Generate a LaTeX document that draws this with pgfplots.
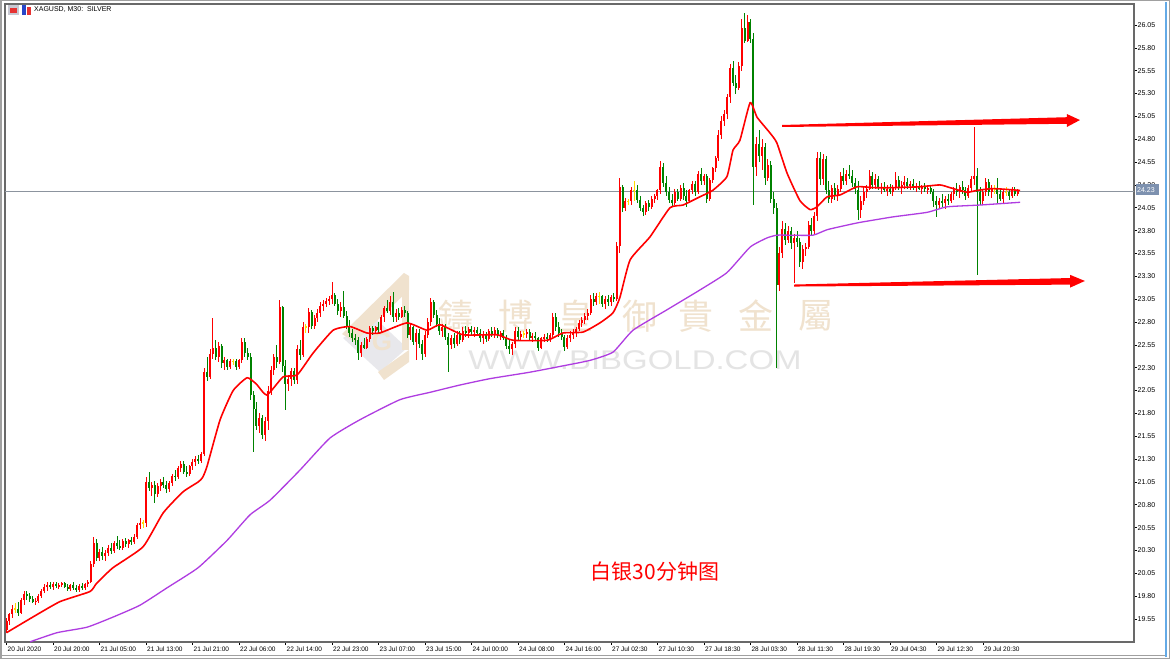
\documentclass[border=0pt]{standalone}
\usepackage{pgfplots}
\pgfplotsset{compat=1.18}
\usepackage{pgfplotstable}
\usepackage{fontspec}
\setmainfont{Liberation Sans}
\newfontfamily\cjksc{Noto Sans CJK SC}
\newfontfamily\cjktc{Noto Sans CJK TC}
\definecolor{candred}{RGB}{255,0,0}
\definecolor{candgreen}{RGB}{0,130,0}
\definecolor{candyellow}{RGB}{255,220,0}
\definecolor{maPurple}{RGB}{175,60,225}
\definecolor{wmTan}{RGB}{240,226,206}
\definecolor{wmGray}{RGB}{228,228,228}
\definecolor{logoGray}{RGB}{232,232,236}
\definecolor{frameGray}{RGB}{105,105,105}
\definecolor{bidGray}{RGB}{140,148,158}
\definecolor{boxBlue}{RGB}{125,145,175}
\definecolor{iconGray}{RGB}{200,200,210}
\definecolor{iconRed}{RGB}{230,50,50}
\definecolor{iconBlue}{RGB}{40,70,200}
\definecolor{winGray}{RGB}{160,160,160}
\definecolor{winBlue}{RGB}{100,170,230}

\pgfplotstableread{
o h l c
19.43 19.56 19.40 19.53
19.53 19.62 19.48 19.60
19.60 19.70 19.56 19.66
19.66 19.72 19.62 19.66
19.66 19.74 19.58 19.62
19.62 19.78 19.60 19.76
19.76 19.86 19.70 19.82
19.82 19.86 19.76 19.80
19.80 19.83 19.74 19.77
19.77 19.80 19.72 19.74
19.74 19.78 19.70 19.75
19.75 19.82 19.72 19.80
19.80 19.88 19.78 19.86
19.86 19.93 19.83 19.90
19.90 19.95 19.86 19.92
19.92 19.96 19.88 19.90
19.90 19.95 19.87 19.93
19.93 19.96 19.89 19.91
19.91 19.94 19.88 19.92
19.92 19.96 19.90 19.94
19.94 19.96 19.89 19.90
19.90 19.93 19.86 19.88
19.88 19.93 19.86 19.92
19.92 19.95 19.87 19.89
19.89 19.92 19.85 19.87
19.87 19.93 19.85 19.91
19.91 19.94 19.87 19.89
19.89 19.94 19.87 19.93
19.93 19.98 19.90 19.96
19.96 20.18 19.94 20.15
20.15 20.45 20.12 20.38
20.38 20.42 20.18 20.22
20.22 20.32 20.18 20.28
20.28 20.34 20.20 20.24
20.24 20.30 20.19 20.27
20.27 20.36 20.24 20.33
20.33 20.38 20.26 20.29
20.29 20.40 20.27 20.38
20.38 20.46 20.32 20.35
20.35 20.41 20.30 20.33
20.33 20.42 20.31 20.40
20.40 20.44 20.34 20.37
20.37 20.43 20.33 20.41
20.41 20.45 20.36 20.39
20.39 20.48 20.37 20.45
20.45 20.60 20.43 20.58
20.58 20.65 20.54 20.60
20.60 20.63 20.55 20.60
20.60 21.10 20.56 21.05
21.05 21.16 20.95 20.98
20.98 21.05 20.90 21.02
21.02 21.06 20.82 20.92
20.92 21.04 20.88 21.00
21.00 21.08 20.95 21.05
21.05 21.10 20.98 21.02
21.02 21.06 20.93 20.97
20.97 21.06 20.94 21.04
21.04 21.14 21.00 21.12
21.12 21.18 21.06 21.10
21.10 21.22 21.08 21.20
21.20 21.28 21.16 21.25
21.25 21.28 21.14 21.16
21.16 21.22 21.10 21.14
21.14 21.24 21.12 21.22
21.22 21.30 21.18 21.27
21.27 21.33 21.22 21.30
21.30 21.35 21.25 21.28
21.28 21.38 21.26 21.35
21.35 22.30 21.33 22.25
22.25 22.42 22.15 22.20
22.20 22.50 22.18 22.45
22.45 22.84 22.40 22.52
22.52 22.60 22.38 22.42
22.42 22.58 22.36 22.54
22.54 22.56 22.30 22.35
22.35 22.42 22.28 22.38
22.38 22.40 22.28 22.31
22.31 22.40 22.29 22.37
22.37 22.40 22.33 22.37
22.37 22.39 22.28 22.31
22.31 22.40 22.29 22.38
22.38 22.62 22.35 22.58
22.58 22.62 22.42 22.46
22.46 22.52 22.38 22.42
22.42 22.46 21.95 22.00
22.00 22.05 21.38 21.85
21.85 21.92 21.62 21.66
21.66 21.80 21.58 21.75
21.75 21.78 21.52 21.56
21.56 21.76 21.50 21.72
21.72 22.10 21.62 22.05
22.05 22.32 22.00 22.28
22.28 22.45 22.22 22.42
22.42 22.55 22.30 22.36
22.36 23.04 22.34 22.96
22.96 22.98 22.25 22.32
22.32 22.38 21.84 22.12
22.12 22.22 22.04 22.18
22.18 22.30 22.10 22.26
22.26 22.30 22.12 22.16
22.16 22.55 22.12 22.50
22.50 22.60 22.38 22.44
22.44 22.80 22.42 22.75
22.75 22.78 22.68 22.75
22.75 22.95 22.68 22.91
22.91 22.93 22.72 22.76
22.76 22.88 22.72 22.84
22.84 22.94 22.80 22.90
22.90 23.02 22.85 22.98
22.98 23.04 22.92 23.00
23.00 23.06 22.96 23.03
23.03 23.08 22.99 23.05
23.05 23.24 23.00 23.10
23.10 23.12 22.98 23.00
23.00 23.05 22.88 22.92
22.92 23.02 22.86 22.96
22.96 23.14 22.84 22.87
22.87 22.92 22.72 22.76
22.76 22.82 22.64 22.68
22.68 22.72 22.58 22.62
22.62 22.67 22.55 22.60
22.60 22.64 22.38 22.46
22.46 22.58 22.42 22.55
22.55 22.62 22.50 22.52
22.52 22.64 22.50 22.61
22.61 22.76 22.58 22.73
22.73 22.76 22.66 22.70
22.70 22.76 22.67 22.74
22.74 22.80 22.68 22.71
22.71 22.88 22.69 22.85
22.85 22.98 22.80 22.95
22.95 23.04 22.90 22.92
22.92 23.08 22.88 23.02
23.02 23.13 22.80 22.85
22.85 22.94 22.80 22.90
22.90 22.95 22.82 22.86
22.86 22.96 22.84 22.93
22.93 22.97 22.86 22.90
22.90 22.92 22.62 22.66
22.66 22.78 22.60 22.74
22.74 22.76 22.55 22.58
22.58 22.72 22.38 22.68
22.68 22.72 22.52 22.56
22.56 22.60 22.38 22.45
22.45 22.70 22.42 22.66
22.66 22.84 22.62 22.80
22.80 23.06 22.76 23.02
23.02 23.04 22.84 22.88
22.88 22.93 22.74 22.78
22.78 22.84 22.66 22.70
22.70 22.78 22.64 22.75
22.75 22.78 22.60 22.64
22.64 22.68 22.25 22.55
22.55 22.66 22.50 22.62
22.62 22.68 22.52 22.56
22.56 22.70 22.54 22.66
22.66 22.70 22.56 22.60
22.60 22.74 22.58 22.70
22.70 22.76 22.64 22.68
22.68 22.74 22.62 22.72
22.72 22.76 22.66 22.69
22.69 22.74 22.64 22.71
22.71 22.75 22.66 22.68
22.68 22.72 22.58 22.62
22.62 22.70 22.56 22.66
22.66 22.69 22.58 22.61
22.61 22.72 22.59 22.70
22.70 22.74 22.64 22.67
22.67 22.74 22.63 22.71
22.71 22.73 22.62 22.65
22.65 22.70 22.60 22.68
22.68 22.71 22.60 22.63
22.63 22.66 22.50 22.54
22.54 22.60 22.45 22.50
22.50 22.58 22.44 22.56
22.56 22.74 22.52 22.70
22.70 22.74 22.60 22.64
22.64 22.70 22.60 22.67
22.67 22.70 22.62 22.67
22.67 22.72 22.63 22.69
22.69 22.72 22.60 22.63
22.63 22.68 22.58 22.65
22.65 22.69 22.60 22.62
22.62 22.64 22.48 22.52
22.52 22.64 22.50 22.62
22.62 22.67 22.58 22.64
22.64 22.68 22.58 22.61
22.61 22.68 22.58 22.66
22.66 22.90 22.64 22.86
22.86 22.90 22.70 22.74
22.74 22.80 22.64 22.68
22.68 22.72 22.60 22.64
22.64 22.66 22.48 22.53
22.53 22.66 22.50 22.63
22.63 22.70 22.58 22.66
22.66 22.72 22.61 22.69
22.69 22.74 22.64 22.72
22.72 22.82 22.70 22.79
22.79 22.86 22.74 22.82
22.82 22.90 22.78 22.87
22.87 22.94 22.82 22.90
22.90 23.10 22.88 23.05
23.05 23.12 22.98 23.02
23.02 23.12 22.99 23.08
23.08 23.13 23.00 23.08
23.08 23.10 22.96 23.00
23.00 23.08 22.94 23.05
23.05 23.09 22.98 23.02
23.02 23.10 22.98 23.07
23.07 23.12 23.02 23.05
23.05 23.68 23.03 23.63
23.63 24.38 23.55 24.28
24.28 24.30 24.00 24.05
24.05 24.16 24.02 24.12
24.12 24.15 24.08 24.12
24.12 24.28 24.08 24.24
24.24 24.34 24.12 24.24
24.24 24.30 24.10 24.14
24.14 24.18 24.02 24.05
24.05 24.08 23.96 24.00
24.00 24.12 23.97 24.10
24.10 24.14 24.02 24.06
24.06 24.18 24.04 24.15
24.15 24.20 24.10 24.18
24.18 24.26 24.14 24.24
24.24 24.56 24.20 24.50
24.50 24.54 24.28 24.32
24.32 24.40 24.18 24.22
24.22 24.28 24.10 24.14
24.14 24.20 24.06 24.10
24.10 24.26 24.08 24.22
24.22 24.26 24.12 24.15
24.15 24.30 24.12 24.27
24.27 24.32 24.14 24.18
24.18 24.24 24.06 24.12
24.12 24.26 24.10 24.24
24.24 24.34 24.20 24.31
24.31 24.34 24.18 24.22
24.22 24.45 24.20 24.42
24.42 24.48 24.30 24.34
24.34 24.42 24.30 24.40
24.40 24.42 24.10 24.15
24.15 24.38 24.12 24.35
24.35 24.50 24.32 24.48
24.48 24.62 24.44 24.60
24.60 24.90 24.56 24.85
24.85 25.05 24.80 25.00
25.00 25.12 24.95 25.08
25.08 25.30 25.02 25.26
25.26 25.62 25.20 25.58
25.58 25.66 25.38 25.42
25.42 25.50 25.30 25.36
25.36 25.65 25.34 25.60
25.60 26.12 25.55 26.02
26.02 26.18 25.85 25.88
25.88 26.16 25.86 26.08
26.08 26.12 25.85 25.90
25.90 25.96 24.08 24.50
24.50 24.82 24.40 24.75
24.75 24.90 24.55 24.62
24.62 24.80 24.46 24.72
24.72 24.76 24.30 24.38
24.38 24.58 24.34 24.52
24.52 24.56 24.10 24.15
24.15 24.22 23.98 24.05
24.05 24.10 22.30 23.20
23.20 23.62 23.14 23.56
23.56 23.90 23.50 23.82
23.82 23.88 23.64 23.70
23.70 23.85 23.66 23.80
23.80 23.84 23.60 23.66
23.66 23.76 23.23 23.72
23.72 23.80 23.62 23.68
23.68 23.72 23.40 23.46
23.46 23.64 23.38 23.60
23.60 23.66 23.52 23.62
23.62 23.90 23.60 23.86
23.86 23.94 23.74 23.80
23.80 24.00 23.76 23.96
23.96 24.66 23.90 24.60
24.60 24.66 24.30 24.36
24.36 24.64 24.30 24.58
24.58 24.62 24.20 24.24
24.24 24.34 24.10 24.15
24.15 24.30 24.10 24.27
24.27 24.32 24.14 24.18
24.18 24.30 24.12 24.26
24.26 24.44 24.22 24.40
24.40 24.48 24.30 24.34
24.34 24.46 24.30 24.42
24.42 24.52 24.36 24.40
24.40 24.46 24.28 24.32
24.32 24.38 24.20 24.25
24.25 24.34 23.92 24.03
24.03 24.18 23.94 24.12
24.12 24.28 24.08 24.22
24.22 24.30 24.16 24.26
24.26 24.46 24.24 24.40
24.40 24.44 24.26 24.30
24.30 24.42 24.26 24.36
24.36 24.40 24.24 24.27
24.27 24.32 24.20 24.28
24.28 24.33 24.22 24.24
24.24 24.30 24.18 24.26
24.26 24.31 24.20 24.22
24.22 24.30 24.18 24.28
24.28 24.44 24.24 24.35
24.35 24.40 24.24 24.28
24.28 24.34 24.20 24.30
24.30 24.40 24.26 24.33
24.33 24.38 24.26 24.29
24.29 24.34 24.24 24.31
24.31 24.36 24.24 24.27
24.27 24.32 24.22 24.29
24.29 24.34 24.24 24.26
24.26 24.30 24.20 24.28
24.28 24.32 24.22 24.25
24.25 24.30 24.20 24.27
24.27 24.30 24.20 24.22
24.22 24.26 24.06 24.12
24.12 24.18 23.95 24.08
24.08 24.16 24.04 24.12
24.12 24.20 24.06 24.10
24.10 24.18 24.04 24.15
24.15 24.20 24.08 24.12
24.12 24.22 24.10 24.20
24.20 24.28 24.14 24.25
24.25 24.32 24.18 24.22
24.22 24.30 24.16 24.28
24.28 24.34 24.20 24.24
24.24 24.28 24.14 24.18
24.18 24.30 24.16 24.27
24.27 24.40 24.22 24.36
24.36 24.93 24.30 24.40
24.40 24.48 23.31 24.22
24.22 24.28 24.08 24.12
24.12 24.25 24.08 24.22
24.22 24.38 24.18 24.33
24.33 24.36 24.18 24.22
24.22 24.30 24.16 24.26
24.26 24.30 24.20 24.26
24.26 24.38 24.10 24.20
24.20 24.24 24.12 24.15
24.15 24.26 24.10 24.22
24.22 24.28 24.18 24.22
24.22 24.26 24.14 24.18
24.18 24.28 24.16 24.25
24.25 24.28 24.18 24.20
24.20 24.26 24.18 24.23
}\candles

\pgfplotstableread{
x y
0 19.40
9 19.57
18.4 19.74
28.7 19.85
31 19.94
36.6 20.11
47 20.34
53.9 20.71
60.7 20.94
66 21.05
67.5 21.10
69 21.22
73.5 21.73
78 22.05
82.8 22.19
86 22.12
89.6 22.00
95.2 22.20
100 22.22
105.5 22.46
112.4 22.71
118.2 22.75
124 22.68
128.5 22.68
137.8 22.79
144.7 22.71
149.2 22.77
157.1 22.66
168.8 22.66
174.3 22.60
186 22.60
191.5 22.68
198.4 22.69
204.2 22.79
208.7 22.90
211.1 23.07
214.6 23.48
221.4 23.73
228.3 24.05
232.8 24.08
238.6 24.17
243 24.24
247.9 24.39
250 24.68
252.4 24.79
255.9 25.20
258.3 25.04
262.7 24.87
265.1 24.76
268.6 24.43
273 24.13
276.5 24.03
278.9 24.06
282.4 24.17
286.8 24.19
292.7 24.28
298.2 24.27
305 24.27
314.3 24.28
321.2 24.30
324.7 24.27
330.5 24.22
334 24.24
339.5 24.26
348.8 24.24
}\maRed

\pgfplotstableread{
x y
8.1 19.30
17.4 19.40
27.7 19.46
36.6 19.57
45.9 19.70
55.2 19.89
65.9 20.11
75.9 20.41
83.8 20.69
90.7 20.85
101 21.18
111.3 21.53
121.6 21.73
135.4 21.95
145.7 22.03
156 22.11
166.4 22.18
180 22.25
191.5 22.32
200.8 22.38
208.7 22.47
215.6 22.71
227.1 22.93
238.6 23.15
247.9 23.34
255.9 23.62
261.7 23.72
265.1 23.75
269.6 23.75
277.5 23.75
282.4 23.81
289.2 23.86
293.7 23.89
305 23.95
316.8 24.00
323.6 24.06
335 24.08
348.8 24.11
}\maPur

\pgfplotsset{
  wick/.style={draw=none, mark=none, forget plot,
    error bars/.cd, y dir=both, y explicit, error mark=none,
    error bar style={line width=0.8pt, draw=#1}},
  body/.style={draw=none, mark=none, forget plot,
    error bars/.cd, y dir=both, y explicit, error mark=none,
    error bar style={line width=2.0pt, draw=#1}},
}

\begin{document}
\begin{tikzpicture}[x=1pt,y=1pt]
\useasboundingbox (0,0) rectangle (1170,659);
\fill[white] (0,0) rectangle (1170,659);
% ---- watermark logo (background) ----
\fill[logoGray] (343,321) -- (375,341) -- (407,311) -- (380,287) -- cycle;
\fill[wmTan] (342,325) -- (404,386) -- (409,383) -- (409,369) -- (355,317) -- cycle;
\fill[wmTan] (402,374) -- (409,374) -- (409,309) -- (402,309) -- cycle;
\fill[wmTan] (378,287) -- (409,309) -- (409,297) -- (384,279) -- cycle;
\node[text=wmTan, font=\fontsize{26}{26}\selectfont\bfseries, inner sep=0pt] at (382,317) {G};
% ---- watermark text ----
\foreach \ch/\xx in {鑄/456, 博/516, 皇/576, 御/640, 貴/696, 金/756, 屬/816}
  \node[text=wmTan, font=\cjktc\fontsize{35}{35}\selectfont, inner sep=0pt] at (\xx,343) {\ch};
\node[text=wmGray, font=\fontsize{27}{27}\selectfont, xscale=1.22, inner sep=0pt] at (635,299) {WWW.BIBGOLD.COM};

\begin{axis}[
  at={(5pt,17pt)}, anchor=south west, scale only axis,
  width=1129pt, height=638pt,
  xmin=-0.52, xmax=388, ymin=19.298, ymax=26.28,
  axis line style={draw=frameGray, line width=1.1pt},
  tick align=outside, major tick length=3pt,
  tick style={draw=black, line width=0.6pt},
  xtick pos=bottom, ytick pos=right, yticklabel pos=right,
  xtick={0,16,32,48,64,80,96,112,128,144,160,176,192,208,224,240,256,272,288,304,320,336},
  xticklabels={20 Jul 2020,20 Jul 20:00,21 Jul 05:00,21 Jul 13:00,21 Jul 21:00,22 Jul 06:00,22 Jul 14:00,22 Jul 23:00,23 Jul 07:00,23 Jul 15:00,24 Jul 00:00,24 Jul 08:00,24 Jul 16:00,27 Jul 02:30,27 Jul 10:30,27 Jul 18:30,28 Jul 03:30,28 Jul 11:30,28 Jul 19:30,29 Jul 04:30,29 Jul 12:30,29 Jul 20:30},
  ytick={19.55,19.80,20.05,20.30,20.55,20.80,21.05,21.30,21.55,21.80,22.05,22.30,22.55,22.80,23.05,23.30,23.55,23.80,24.05,24.30,24.55,24.80,25.05,25.30,25.55,25.80,26.05},
  scaled y ticks=false,
  /pgf/number format/fixed, /pgf/number format/fixed zerofill,
  /pgf/number format/precision=2, /pgf/number format/assume math mode=true,
  xticklabel style={font=\fontsize{6.5}{7.5}\selectfont, anchor=north west, inner sep=0pt, xshift=1pt, yshift=-1.5pt},
  yticklabel style={font=\fontsize{7}{8}\selectfont, anchor=west, inner sep=0pt, xshift=0.5pt},
  clip=true,
]
% bid line
\addplot[bidGray, line width=0.8pt, forget plot] coordinates {(-1,24.23) (390,24.23)};
% bullish (red)
\addplot[restrict expr to domain={\thisrow{c}-\thisrow{o}}{0.001:100}, wick=candred]
  table[x expr=\coordindex, y expr={(\thisrow{h}+\thisrow{l})/2}, y error expr={(\thisrow{h}-\thisrow{l})/2}] {\candles};
\addplot[restrict expr to domain={\thisrow{c}-\thisrow{o}}{0.001:100}, body=candred]
  table[x expr=\coordindex, y expr={(\thisrow{o}+\thisrow{c})/2}, y error expr={abs(\thisrow{c}-\thisrow{o})/2}] {\candles};
% bearish (green)
\addplot[restrict expr to domain={\thisrow{c}-\thisrow{o}}{-100:-0.001}, wick=candgreen]
  table[x expr=\coordindex, y expr={(\thisrow{h}+\thisrow{l})/2}, y error expr={(\thisrow{h}-\thisrow{l})/2}] {\candles};
\addplot[restrict expr to domain={\thisrow{c}-\thisrow{o}}{-100:-0.001}, body=candgreen]
  table[x expr=\coordindex, y expr={(\thisrow{o}+\thisrow{c})/2}, y error expr={abs(\thisrow{c}-\thisrow{o})/2}] {\candles};
% doji (yellow)
\addplot[restrict expr to domain={\thisrow{c}-\thisrow{o}}{-0.0009:0.0009}, wick=candyellow]
  table[x expr=\coordindex, y expr={(\thisrow{h}+\thisrow{l})/2}, y error expr={(\thisrow{h}-\thisrow{l})/2}] {\candles};
\addplot[restrict expr to domain={\thisrow{c}-\thisrow{o}}{-0.0009:0.0009}, body=candyellow]
  table[x expr=\coordindex, y expr={\thisrow{c}}, y error expr={0.006}] {\candles};
% moving averages
\addplot[candred, line width=1.6pt, smooth, tension=0.3, forget plot] table[x=x, y=y] {\maRed};
\addplot[maPurple, line width=1.3pt, smooth, tension=0.3, forget plot] table[x=x, y=y] {\maPur};
% annotation arrows
\fill[candred] (axis cs:266.9,24.934) -- (axis cs:364.9,24.969) -- (axis cs:364.9,24.934) -- (axis cs:369.4,25.010) -- (axis cs:364.9,25.076) -- (axis cs:364.9,25.041) -- (axis cs:266.9,24.956) -- cycle;
\fill[candred] (axis cs:271.0,23.188) -- (axis cs:366.0,23.209) -- (axis cs:366.0,23.176) -- (axis cs:371.1,23.249) -- (axis cs:366.0,23.316) -- (axis cs:366.0,23.281) -- (axis cs:271.0,23.210) -- cycle;
\end{axis}

% current price label
\fill[boxBlue] (1136,463.5) rectangle (1159,474.5);
\node[text=white, font=\fontsize{7}{8}\selectfont, inner sep=0pt, anchor=west] at (1137,469) {24.23};
% chart title + icons
\fill[iconGray] (8,644) rectangle (19,654);
\fill[iconRed] (10,646) rectangle (17,651);
\fill[iconBlue] (22,644) rectangle (26,654);
\fill[iconRed] (27,644) rectangle (31,652);
\node[anchor=west, font=\fontsize{7}{8}\selectfont, inner sep=0pt] at (34,649) {XAGUSD, M30:\ \ SILVER};
% red caption
\node[text=candred, font=\cjksc\fontsize{21}{21}\selectfont, inner sep=0pt] at (655,87) {白银30分钟图};
% window frame
\draw[winGray, line width=1.5pt] (0.75,0.75) rectangle (1169.25,658.25);
\draw[winGray, line width=1pt] (0,3.5) -- (1165,3.5);
\draw[winBlue, line width=2pt] (1166,2) -- (1166,657);
\end{tikzpicture}
\end{document}
